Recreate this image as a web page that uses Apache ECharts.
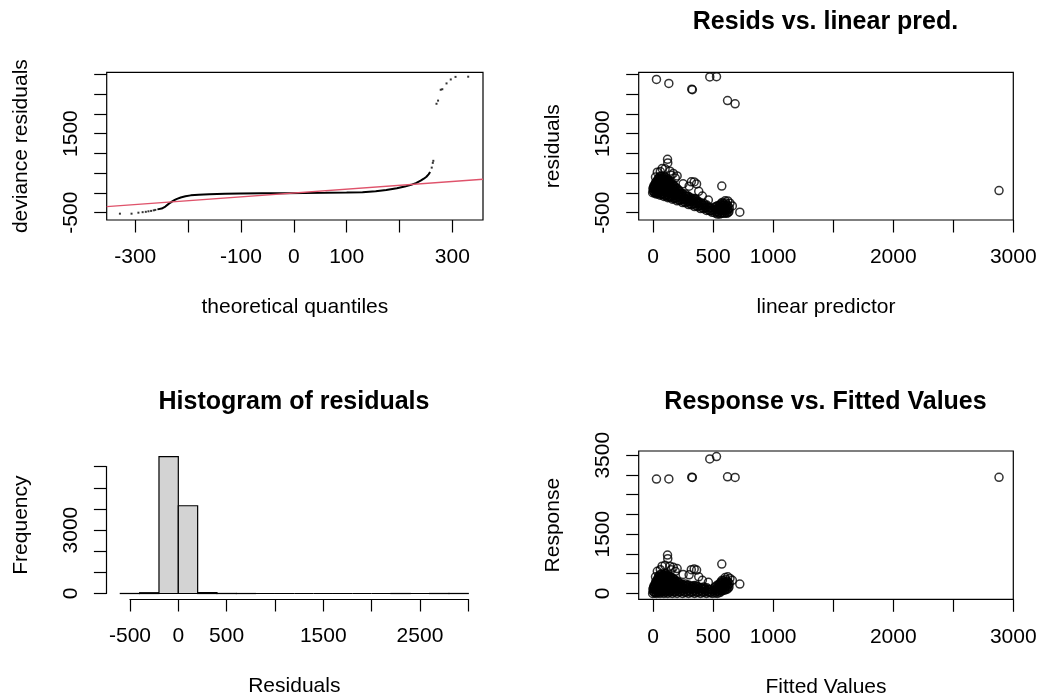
<!DOCTYPE html>
<html><head><meta charset="utf-8">
<script src="https://cdn.jsdelivr.net/npm/echarts@6/dist/echarts.min.js"></script>
<style>html,body{margin:0;padding:0;background:#fff}#c{width:1040px;height:700px}</style>
</head><body><div id="c"></div>
<script>
// ---------- Panel 1: QQ plot of deviance residuals ----------
const qqTailLowX = [-329, -307, -294, -286, -280, -275, -270, -265, -262];
const qqTailLowY = [-525, -525, -500, -487, -478, -465, -455, -440, -430];
const qqBodyX = [-258, -250, -243, -238, -234, -230, -226, -221, -214, -205, -195, -180, -160, -130, -100, -60, -20, 20, 60, 100, 130, 155, 175, 195, 210, 222, 232, 240, 246, 251, 255, 258];
const qqBodyY = [-416, -395, -345, -290, -250, -215, -185, -150, -115, -85, -62, -45, -33, -22, -16, -11, -7, -3, 2, 10, 20, 40, 72, 120, 160, 205, 255, 310, 360, 410, 470, 530];
const qqTailHighX = [261, 263, 264, 270, 273, 278, 281, 289, 297, 306, 330];
const qqTailHighY = [640, 760, 812, 2255, 2335, 2610, 2623, 2770, 2870, 2935, 2940];
const qqLineX = [-354, 358];
const qqLineY = [-347, 347];

// ---------- Panels 2 & 4: linear predictor / fitted, residuals, response ----------
const linPred = [
  -4,2,-2,5, 14,16,12,18, 28,26,30,27,31, 42,40,44,41,43,45, 58,56,60,57,59,61,55,
  74,72,76,73,75,77,71, 90,88,92,89,91,93,87, 106,104,108,105,107,109,103,
  122,120,124,121,123,125,119, 140,138,142,139,141,143, 160,158,162,159,161,163,
  180,178,182,179,181, 200,198,202,199,201, 222,220,224,221, 245,243,247,244,
  270,268,272,269, 295,293,297,294, 320,318,322, 345,343,347,344, 370,368,372,
  395,393,397, 420,418,422, 445,443,447, 470,468, 492,494,
  515,517,513, 535,537,533,536, 555,557,553,556, 575,577,573,576,574, 595,597,593,596,
  615,617,613,616, 632,635,
  120,122,75,100,140,168,200,60,35,150,185,318,342,362,300,380,410,460,572,622,640,722,660,600,250,20,
  28,131,322,327,472,528,620,683,2881];
const residVals = [
  4,48,112,155, -4,74,158,222, -28,54,130,213,289, -22,60,136,219,297,365, -58,24,100,183,261,339,415,
  -44,38,114,197,275,353,419, -90,-8,68,151,229,307,383, -76,6,82,165,243,321,397,
  -122,-40,36,119,197,275,351, -110,-28,48,131,209,287, -160,-78,-2,81,159,227,
  -150,-68,8,91,159, -200,-118,-42,41,109, -192,-110,-34,39, -245,-163,-87,-14,
  -250,-168,-92,-29, -295,-213,-147,-84, -300,-218,-152, -345,-263,-197,-144, -350,-268,-202,
  -395,-313,-247, -400,-318,-262, -445,-373,-307, -450,-378, -492,-434,
  -505,-437,-363, -535,-467,-393,-326, -535,-457,-383,-306, -515,-447,-373,-306,-244, -515,-447,-373,-306,
  -515,-447,-373,-306, -472,-385,
  850,758,615,610,550,492,430,540,525,450,375,282,278,228,170,40,-80,-180,172,-202,-260,-486,-330,-200,230,400,
  2870,2770,2623,2610,2935,2940,2335,2255,60];
const responseVals = [
  0,50,110,160, 10,90,170,240, 0,80,160,240,320, 20,100,180,260,340,410, 0,80,160,240,320,400,470,
  30,110,190,270,350,430,490, 0,80,160,240,320,400,470, 30,110,190,270,350,430,500,
  0,80,160,240,320,400,470, 30,110,190,270,350,430, 0,80,160,240,320,390,
  30,110,190,270,340, 0,80,160,240,310, 30,110,190,260, 0,80,160,230,
  20,100,180,240, 0,80,150,210, 20,100,170, 0,80,150,200, 20,100,170,
  0,80,150, 20,100,160, 0,70,140, 20,90, 0,60,
  10,80,150, 0,70,140,210, 20,100,170,250, 60,130,200,270,330, 80,150,220,290,
  100,170,240,310, 160,250,
  970,880,690,710,690,660,630,600,560,600,560,600,620,590,470,420,330,280,744,420,380,236,330,400,480,420,
  2898,2901,2945,2937,3407,3468,2955,2938,2941];
// more points inside the dense cluster
const linPred2 = [7,6,8, 21,20,22,21, 35,36,34,35,37, 50,49,51,50,52,50, 66,65,67,66,68,66,
  82,81,83,82,84,82, 98,97,99,98,100,98, 114,113,115,114,116,114, 131,130,132,131,133,131,
  150,149,151,150,152, 170,169,171,170,172, 190,189,191,190, 211,210,212,211, 233,232,234,
  257,256,258, 282,281,283, 307,306,308, 332,331,333, 357,356,358, 382,381, 407,406, 432,431,
  457,456, 481,480, 525,526,524, 546,545,547, 565,566,564,565, 585,586,584,585, 605,606,604,605, 625,626,624];
const residVals2 = [23,114,192, 19,110,178,269, 5,84,166,245,333, 0,81,159,240,318,390, -26,55,133,214,292,374,
  -22,59,137,218,296,368, -58,23,101,182,260,342, -54,27,105,186,264,336, -91,-10,68,149,227,309,
  -90,-9,69,150,228, -130,-49,29,110,188, -130,-49,29,110, -171,-90,-12,69, -173,-92,-14,
  -217,-136,-58, -232,-151,-83, -267,-186,-118, -282,-201,-143, -317,-236,-168, -332,-251, -367,-286, -382,-311,
  -417,-346, -451,-380, -485,-416,-344, -496,-415,-337, -505,-426,-354,-275, -495,-416,-334,-265, -495,-416,-334,-255, -495,-416,-334];
const responseVals2 = [30,120,200, 40,130,200,290, 40,120,200,280,370, 50,130,210,290,370,440, 40,120,200,280,360,440,
  60,140,220,300,380,450, 40,120,200,280,360,440, 60,140,220,300,380,450, 40,120,200,280,360,440,
  60,140,220,300,380, 40,120,200,280,360, 60,140,220,300, 40,120,200,280, 60,140,220,
  40,120,200, 50,130,200, 40,120,190, 50,130,190, 40,120,190, 50,130, 40,120, 50,120,
  40,110, 30,100, 40,110,180, 50,130,210, 60,140,210,290, 90,170,250,320, 110,190,270,350, 130,210,290];

// ---------- Panel 3: histogram of residuals ----------
const histLo = [-600,-400,-200,0,200,400,600,800,1000,1200,1400,1600,1800,2000,2200,2400,2600,2800];
const histHi = [-400,-200,0,200,400,600,800,1000,1200,1400,1600,1800,2000,2200,2400,2600,2800,3000];
const histCounts = [3,38,6470,4150,45,4,1,0,0,0,0,0,0,0,2,0,3,3];

// ---------- Tick values and shown labels ----------
const qqXTicks = [-300,-200,-100,0,100,200,300];
const qqXLabels = [-300,-100,0,100,300];
const residYTicks = [-500,0,500,1000,1500,2000,2500,3000];
const residYLabels = [-500,1500];
const predXTicks = [0,500,1000,1500,2000,2500,3000];
const predXLabels = [0,500,1000,2000,3000];
const histXTicks = [-500,0,500,1000,1500,2000,2500,3000];
const histXLabels = [-500,0,500,1500,2500];
const histYTicks = [0,1000,2000,3000,4000,5000,6000];
const histYLabels = [0,3000];
const respYTicks = [0,500,1000,1500,2000,2500,3000,3500];
const respYLabels = [0,1500,3500];

const FONT = '"Liberation Sans", Arial, sans-serif';
const black = '#000';

function zip(a, b) { return a.map((v, i) => [v, b[i]]); }
function plain(v) { return String(v); }

function xAxis(gi, min, max, ticks, labels, name, opts) {
  opts = opts || {};
  return {
    type: 'value', gridIndex: gi, min: min, max: max, position: 'bottom',
    axisLine: { show: !!opts.line, onZero: false, lineStyle: { color: black, width: 1.2 } },
    axisTick: { show: !!ticks, customValues: ticks || [], length: 12.5, lineStyle: { color: black, width: 1.2 } },
    axisLabel: { show: !!labels, customValues: labels || [], formatter: plain, margin: 27, fontSize: 21, color: black, fontFamily: FONT, hideOverlap: false },
    splitLine: { show: false },
    name: name || '', nameLocation: 'middle', nameGap: 77,
    nameTextStyle: { fontSize: 21, color: black, fontFamily: FONT },
    show: opts.show !== false
  };
}
function yAxis(gi, min, max, ticks, labels, name, opts) {
  opts = opts || {};
  return {
    type: 'value', gridIndex: gi, min: min, max: max, position: 'left',
    axisLine: { show: !!opts.line, onZero: false, lineStyle: { color: black, width: 1.2 } },
    axisTick: { show: !!ticks, customValues: ticks || [], length: 12.5, lineStyle: { color: black, width: 1.2 } },
    axisLabel: { show: !!labels, customValues: labels || [], formatter: plain, rotate: 90, margin: 25, fontSize: 21, color: black, fontFamily: FONT, hideOverlap: false },
    splitLine: { show: false },
    name: name || '', nameLocation: 'middle', nameGap: 75,
    nameTextStyle: { fontSize: 21, color: black, fontFamily: FONT },
    show: opts.show !== false
  };
}

// histogram scale extents (R style 4% expansion)
const hX = [-744, 3144], hY = [-259, 6729];
const hGrid = { left: 106.4, top: 451.2, width: 375.8, height: 147.8 };
function hpx(v) { return hGrid.left + (v - hX[0]) / (hX[1] - hX[0]) * hGrid.width; }
function hpy(v) { return hGrid.top + (hY[1] - v) / (hY[1] - hY[0]) * hGrid.height; }

const circleStyle = { color: 'rgba(0,0,0,0)', borderColor: black, borderWidth: 1.5 };
const CIRCLE = 8;

const option = {
  animation: false,
  backgroundColor: '#fff',
  grid: [
    { left: 106.7, top: 72.3, width: 376.3, height: 147.7, show: true, borderColor: black, borderWidth: 1.2, outerBoundsMode: 'none' },
    { left: 638.7, top: 72.3, width: 374.6, height: 147.7, show: true, borderColor: black, borderWidth: 1.2, outerBoundsMode: 'none' },
    { left: hGrid.left, top: hGrid.top, width: hGrid.width, height: hGrid.height, show: false, outerBoundsMode: 'none' },
    { left: 638.7, top: 451, width: 374.6, height: 148.3, show: true, borderColor: black, borderWidth: 1.2, outerBoundsMode: 'none' },
    { left: hGrid.left, top: hpy(6000), width: 10, height: hpy(0) - hpy(6000), show: false, outerBoundsMode: 'none' },
    { left: hpx(-500), top: hGrid.top, width: hpx(3000) - hpx(-500), height: hGrid.height, show: false, outerBoundsMode: 'none' }
  ],
  xAxis: [
    xAxis(0, -354, 358, qqXTicks, qqXLabels, 'theoretical quantiles'),
    xAxis(1, -120, 3000, predXTicks, predXLabels, 'linear predictor'),
    xAxis(2, hX[0], hX[1], histXTicks, histXLabels, 'Residuals'),
    xAxis(3, -120, 3000, predXTicks, predXLabels, 'Fitted Values'),
    xAxis(4, 0, 1, null, null, '', { show: false }),
    xAxis(5, -500, 3000, null, null, '', { line: true })
  ],
  yAxis: [
    yAxis(0, -685, 3051, residYTicks, residYLabels, 'deviance residuals'),
    yAxis(1, -685, 3051, residYTicks, residYLabels, 'residuals'),
    yAxis(2, hY[0], hY[1], histYTicks, histYLabels, 'Frequency'),
    yAxis(3, -150, 3608, respYTicks, respYLabels, 'Response'),
    yAxis(4, 0, 6000, null, null, '', { line: true }),
    yAxis(5, 0, 1, null, null, '', { show: false })
  ],
  series: [
    { type: 'line', xAxisIndex: 0, yAxisIndex: 0, data: zip(qqBodyX, qqBodyY), showSymbol: false, silent: true,
      lineStyle: { color: black, width: 2 }, z: 2 },
    { type: 'scatter', xAxisIndex: 0, yAxisIndex: 0, data: zip(qqTailLowX, qqTailLowY).concat(zip(qqTailHighX, qqTailHighY)),
      symbol: 'rect', symbolSize: 2, itemStyle: { color: black }, silent: true, z: 2 },
    { type: 'line', xAxisIndex: 0, yAxisIndex: 0, data: zip(qqLineX, qqLineY), showSymbol: false, silent: true,
      lineStyle: { color: '#DF536B', width: 1.4 }, z: 3 },
    { type: 'scatter', xAxisIndex: 1, yAxisIndex: 1, data: zip(linPred, residVals).concat(zip(linPred2, residVals2)),
      symbol: 'circle', symbolSize: CIRCLE, itemStyle: circleStyle, silent: true, large: false },
    { type: 'custom', xAxisIndex: 2, yAxisIndex: 2, silent: true,
      data: histLo.map((lo, i) => [lo, histHi[i], histCounts[i]]),
      encode: { x: [0, 1], y: 2 },
      renderItem: function (params, api) {
        const p0 = api.coord([api.value(0), api.value(2)]);
        const p1 = api.coord([api.value(1), 0]);
        return { type: 'rect', shape: { x: p0[0], y: p0[1], width: p1[0] - p0[0], height: p1[1] - p0[1] },
                 style: { fill: '#D3D3D3', stroke: black, lineWidth: 1.2 } };
      } },
    { type: 'scatter', xAxisIndex: 3, yAxisIndex: 3, data: zip(linPred, responseVals).concat(zip(linPred2, responseVals2)),
      symbol: 'circle', symbolSize: CIRCLE, itemStyle: circleStyle, silent: true, large: false }
  ],
  graphic: [
    { type: 'text', x: 825.5, y: 22.5, style: { text: 'Resids vs. linear pred.', font: 'bold 25px ' + FONT, fill: black, align: 'center', verticalAlign: 'middle' } },
    { type: 'text', x: 294, y: 402.5, style: { text: 'Histogram of residuals', font: 'bold 25px ' + FONT, fill: black, align: 'center', verticalAlign: 'middle' } },
    { type: 'text', x: 825.5, y: 402.5, style: { text: 'Response vs. Fitted Values', font: 'bold 25px ' + FONT, fill: black, align: 'center', verticalAlign: 'middle' } }
  ]
};

const chart = echarts.init(document.getElementById('c'), null, { renderer: 'canvas' });
chart.setOption(option);
</script></body></html>
